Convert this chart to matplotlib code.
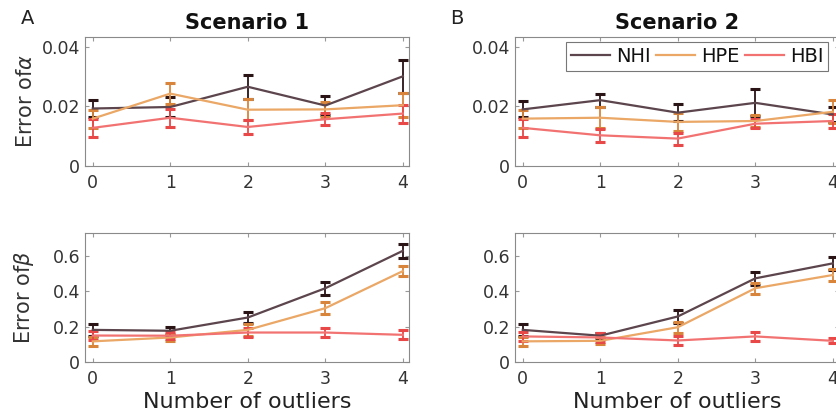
import matplotlib
matplotlib.use("Agg")
import matplotlib.pyplot as plt
import numpy as np

plt.rcParams['font.family'] = ['DejaVu Sans']
plt.rcParams['mathtext.fontset'] = 'dejavusans'

x = [0, 1, 2, 3, 4]
methods = ["NHI", "HPE", "HBI"]
line_colors = ["#5c454c", "#eaa766", "#f27272"]
cap_colors = ["#2a1416", "#d8843a", "#e84848"]

# Scenario 1, alpha
s1_alpha = {
    "NHI": [0.0193, 0.0198, 0.0266, 0.0203, 0.0301],
    "HPE": [0.0159, 0.0243, 0.0189, 0.0190, 0.0204],
    "HBI": [0.0128, 0.0162, 0.0131, 0.0157, 0.0176],
}
s1_alpha_err = {
    "NHI": [0.0027, 0.0034, 0.0041, 0.0031, 0.0055],
    "HPE": [0.0030, 0.0036, 0.0035, 0.0025, 0.0040],
    "HBI": [0.0030, 0.0030, 0.0022, 0.0020, 0.0030],
}
# Scenario 2, alpha
s2_alpha = {
    "NHI": [0.0190, 0.0221, 0.0179, 0.0212, 0.0173],
    "HPE": [0.0159, 0.0162, 0.0148, 0.0151, 0.0182],
    "HBI": [0.0128, 0.0103, 0.0092, 0.0142, 0.0151],
}
s2_alpha_err = {
    "NHI": [0.0027, 0.0022, 0.0028, 0.0045, 0.0025],
    "HPE": [0.0030, 0.0036, 0.0030, 0.0020, 0.0038],
    "HBI": [0.0030, 0.0022, 0.0020, 0.0015, 0.0022],
}
# Scenario 1, beta
s1_beta = {
    "NHI": [0.182, 0.177, 0.252, 0.418, 0.630],
    "HPE": [0.117, 0.139, 0.182, 0.305, 0.515],
    "HBI": [0.150, 0.149, 0.167, 0.167, 0.154],
}
s1_beta_err = {
    "NHI": [0.032, 0.022, 0.030, 0.037, 0.040],
    "HPE": [0.025, 0.020, 0.035, 0.035, 0.030],
    "HBI": [0.025, 0.020, 0.025, 0.025, 0.025],
}
# Scenario 2, beta
s2_beta = {
    "NHI": [0.182, 0.149, 0.258, 0.474, 0.559],
    "HPE": [0.117, 0.120, 0.197, 0.418, 0.493],
    "HBI": [0.145, 0.139, 0.122, 0.145, 0.120],
}
s2_beta_err = {
    "NHI": [0.032, 0.015, 0.035, 0.038, 0.037],
    "HPE": [0.025, 0.020, 0.030, 0.030, 0.035],
    "HBI": [0.025, 0.025, 0.025, 0.025, 0.015],
}

W, H = 837, 417
fig = plt.figure(figsize=(W / 100, H / 100), dpi=100)

def ax_at(left, top, right, bottom):
    return fig.add_axes([left / W, 1 - bottom / H, (right - left) / W, (bottom - top) / H])

axA1 = ax_at(85, 37, 409, 166)
axB1 = ax_at(515, 37, 839, 166)
axA2 = ax_at(85, 233, 409, 362)
axB2 = ax_at(515, 233, 839, 362)

tick_col = "#333333"

def draw(ax, vals, errs, ylim, yticks, yticklabels):
    handles = []
    for m, lc, cc in zip(methods, line_colors, cap_colors):
        ax.errorbar(x, vals[m], yerr=errs[m], fmt='none', ecolor=cc,
                    elinewidth=1.3, capsize=3.5, capthick=2.2, zorder=2)
        h, = ax.plot(x, vals[m], color=lc, lw=1.6, zorder=3, label=m)
        handles.append(h)
    ax.set_xlim(-0.1, 4.08)
    ax.set_ylim(*ylim)
    ax.set_xticks(x)
    ax.set_yticks(yticks)
    ax.set_yticklabels(yticklabels)
    ax.tick_params(direction='in', top=True, right=True, length=3,
                   labelsize=12.5, colors="#999999", labelcolor=tick_col, width=0.8)
    ax.tick_params(axis='x', pad=6)
    for s in ax.spines.values():
        s.set_color("#8a8a8a")
        s.set_linewidth(0.8)
    return handles

draw(axA1, s1_alpha, s1_alpha_err, (0, 0.0433), [0, 0.02, 0.04], ["0", "0.02", "0.04"])
hs = draw(axB1, s2_alpha, s2_alpha_err, (0, 0.0433), [0, 0.02, 0.04], ["0", "0.02", "0.04"])
draw(axA2, s1_beta, s1_beta_err, (0, 0.731), [0, 0.2, 0.4, 0.6], ["0", "0.2", "0.4", "0.6"])
draw(axB2, s2_beta, s2_beta_err, (0, 0.731), [0, 0.2, 0.4, 0.6], ["0", "0.2", "0.4", "0.6"])

axA1.set_title("Scenario 1", fontsize=15, fontweight='bold', pad=6, color="#111111")
axB1.set_title("Scenario 2", fontsize=15, fontweight='bold', pad=6, color="#111111")

axA1.set_ylabel(r"Error of$\alpha$", fontsize=15, color="#333333")
axA2.set_ylabel(r"Error of$\beta$", fontsize=15, color="#333333")
axA1.yaxis.set_label_coords(-0.15, 0.5)
axA2.yaxis.set_label_coords(-0.15, 0.5)
axA2.set_xlabel("Number of outliers", fontsize=16, color="#222222", labelpad=3)
axB2.set_xlabel("Number of outliers", fontsize=16, color="#222222", labelpad=3)

leg = axB1.legend(handles=hs, labels=methods, ncol=3, loc='upper right',
                  bbox_to_anchor=(0.967, 0.96), fontsize=14, frameon=True,
                  fancybox=False, edgecolor="#555555", handlelength=2.0,
                  handletextpad=0.3, columnspacing=0.3, borderpad=0.25,
                  borderaxespad=0)
leg.get_frame().set_linewidth(0.8)
for t in leg.get_texts():
    t.set_color("#111111")

fig.text(28 / W, 1 - 19 / H, "A", fontsize=14, va='center', ha='center', color="#222222")
fig.text(457 / W, 1 - 19 / H, "B", fontsize=14, va='center', ha='center', color="#222222")

fig.savefig("out.png", dpi=100)
